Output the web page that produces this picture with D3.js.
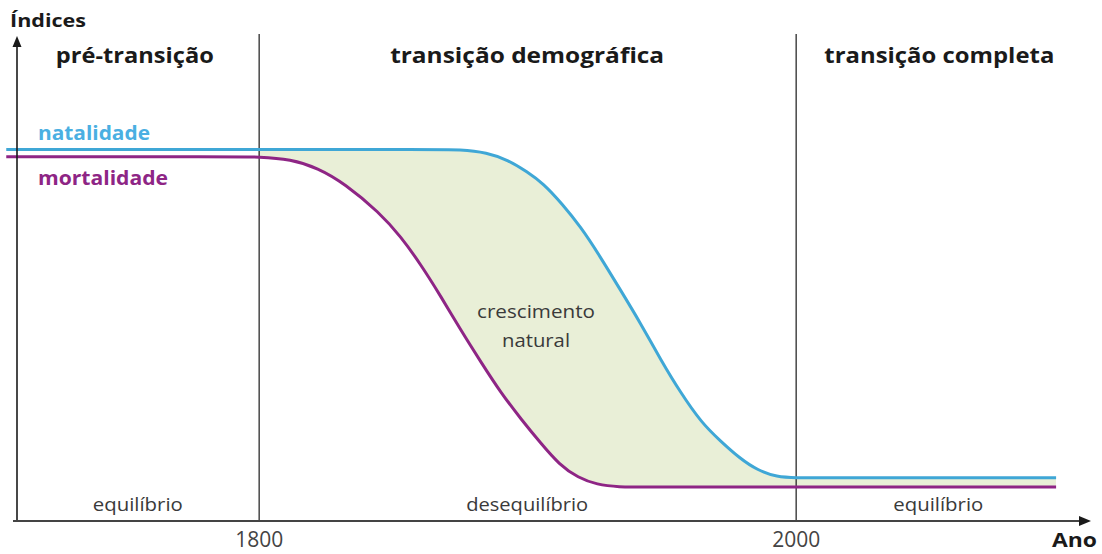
<!DOCTYPE html>
<html>
<head>
<meta charset="utf-8">
<script src="https://cdn.jsdelivr.net/npm/d3@7"></script>
<style>
  body { margin: 0; background: #fff; }
  svg { display: block; font-family: "Open Sans", sans-serif; }
</style>
</head>
<body>
<div class="wrapper"></div>
<script>
// data (index is a relative scale 0-100)
var natYears = [1706, 1800, 1865, 1875, 1885, 1893, 1900, 1906, 1913, 1920, 1927, 1935, 1942, 1950, 1957, 1965, 1972, 1979, 1986, 1993, 2000, 2010, 2097];
var natalidade = [76.6, 76.6, 76.6, 76.6, 76.0, 74.4, 72.0, 69.6, 65.4, 60.6, 54.7, 47.4, 41.0, 33.0, 26.6, 20.2, 16.5, 13.0, 10.4, 9.1, 8.9, 8.9, 8.9];
var morYears = [1706, 1790, 1800, 1812, 1822, 1832, 1845, 1853, 1860, 1868, 1875, 1883, 1890, 1898, 1905, 1912, 1919, 1926, 1934, 1944, 2097];
var mortalidade = [75.1, 75.1, 75.1, 74.6, 72.8, 69.6, 63.6, 58.6, 53.2, 46.2, 39.6, 32.6, 26.6, 20.8, 16.1, 11.6, 8.9, 7.5, 7.0, 7.0, 7.0];

var tickYears = [1800, 2000];
var phaseBounds = [1710, 1800, 2000, 2110];
var phases = ["pré-transição", "transição demográfica", "transição completa"];
var balance = ["equilíbrio", "desequilíbrio", "equilíbrio"];

var W = 1102, H = 554;
var blue = "#3fa7d6", purple = "#8e2585", fillGreen = "#e9efd7", ink = "#1a1a1a", grey = "#3a3a3a";

var x = d3.scaleLinear().domain([1710, 2110]).range([17, 1091]);
var y = d3.scaleLinear().domain([0, 100]).range([521, 36]);
var curve = d3.curveBasis;

var svg = d3.select(".wrapper").append("svg").attr("width", W).attr("height", H);

function pts (xs, ys) { return xs.map(function (d, i) { return [d, ys[i]]; }); }
var nat = pts(natYears, natalidade);
var mor = pts(morYears, mortalidade);

var line = d3.line().x(function (d) { return x(d[0]); }).y(function (d) { return y(d[1]); }).curve(curve);

// region above the mortality curve, used to clip the green gap
svg.append("clipPath").attr("id", "above-mor")
  .append("path")
  .attr("d", d3.area().x(function (d) { return x(d[0]); }).y0(0).y1(function (d) { return y(d[1]); }).curve(curve)(mor));

svg.append("path")
  .attr("clip-path", "url(#above-mor)")
  .attr("fill", fillGreen)
  .attr("d", d3.area().x(function (d) { return x(d[0]); }).y0(y(0)).y1(function (d) { return y(d[1]); }).curve(curve)(nat.filter(function (d) { return d[0] >= 1800; })));

// year ticks as full height lines
var xAxis = svg.append("g")
  .attr("transform", "translate(0," + y(0) + ")")
  .call(d3.axisBottom(x).tickValues(tickYears).tickFormat(d3.format("d")).tickSize(-(y(0) - 34)).tickPadding(11));
xAxis.select(".domain").remove();
xAxis.selectAll(".tick line").attr("stroke", ink).attr("stroke-width", 1.2);
xAxis.selectAll(".tick text").attr("font-size", 21).attr("fill", "#444").attr("font-family", "Open Sans");

svg.append("path").attr("d", line(mor)).attr("fill", "none").attr("stroke", purple).attr("stroke-width", 3);
svg.append("path").attr("d", line(nat)).attr("fill", "none").attr("stroke", blue).attr("stroke-width", 3);

// axes with arrow heads
var x0 = x(1710), yb = y(0);
svg.append("line").attr("x1", x0).attr("y1", yb).attr("x2", x0).attr("y2", y(98)).attr("stroke", ink).attr("stroke-width", 1.6);
svg.append("line").attr("x1", x0 - 4).attr("y1", yb).attr("x2", x(2107)).attr("y2", yb).attr("stroke", "#444").attr("stroke-width", 2);
svg.append("path").attr("fill", ink).attr("d", "M" + x0 + "," + y(100) + "L" + (x0 - 4.5) + "," + (y(100) + 11) + "L" + (x0 + 4.5) + "," + (y(100) + 11) + "Z");
svg.append("path").attr("fill", ink).attr("d", "M" + x(2110) + "," + yb + "L" + (x(2110) - 12) + "," + (yb - 5) + "L" + (x(2110) - 12) + "," + (yb + 5) + "Z");

function label (txt, px, py, opt) {
  var t = svg.append("text").text(txt)
    .attr("x", px).attr("y", py)
    .attr("font-size", opt.size)
    .attr("font-weight", opt.bold ? 700 : 400)
    .attr("fill", opt.color || ink)
    .attr("text-anchor", opt.anchor || "start");
  if (opt.width) t.attr("textLength", opt.width).attr("lengthAdjust", "spacingAndGlyphs");
  return t;
}

var phaseWidths = [158, 274, 230];
var phaseNudge = [-3, 0, -4];
phases.forEach(function (p, i) {
  var cx = (x(phaseBounds[i]) + x(phaseBounds[i + 1])) / 2 + phaseNudge[i];
  label(p, cx, 63, { size: 21, bold: true, anchor: "middle", width: phaseWidths[i] });
});

var balWidths = [90, 122, 90];
var balNudge = [0, 0, -5];
balance.forEach(function (b, i) {
  var cx = (x(phaseBounds[i]) + x(phaseBounds[i + 1])) / 2 + balNudge[i];
  label(b, cx, 511, { size: 18, anchor: "middle", color: grey, width: balWidths[i] });
});

label("Índices", 10, 27, { size: 18, bold: true, width: 76 });
label("Ano", 1052, 547, { size: 19, bold: true, width: 45 });
label("natalidade", 38, 140, { size: 19, bold: true, color: "#4aafe2", width: 112 });
label("mortalidade", 38, 185, { size: 19, bold: true, color: purple, width: 130 });
label("crescimento", 536, 318, { size: 18, anchor: "middle", color: grey, width: 118 });
label("natural", 536, 347, { size: 18, anchor: "middle", color: grey, width: 68 });
</script>
</body>
</html>
